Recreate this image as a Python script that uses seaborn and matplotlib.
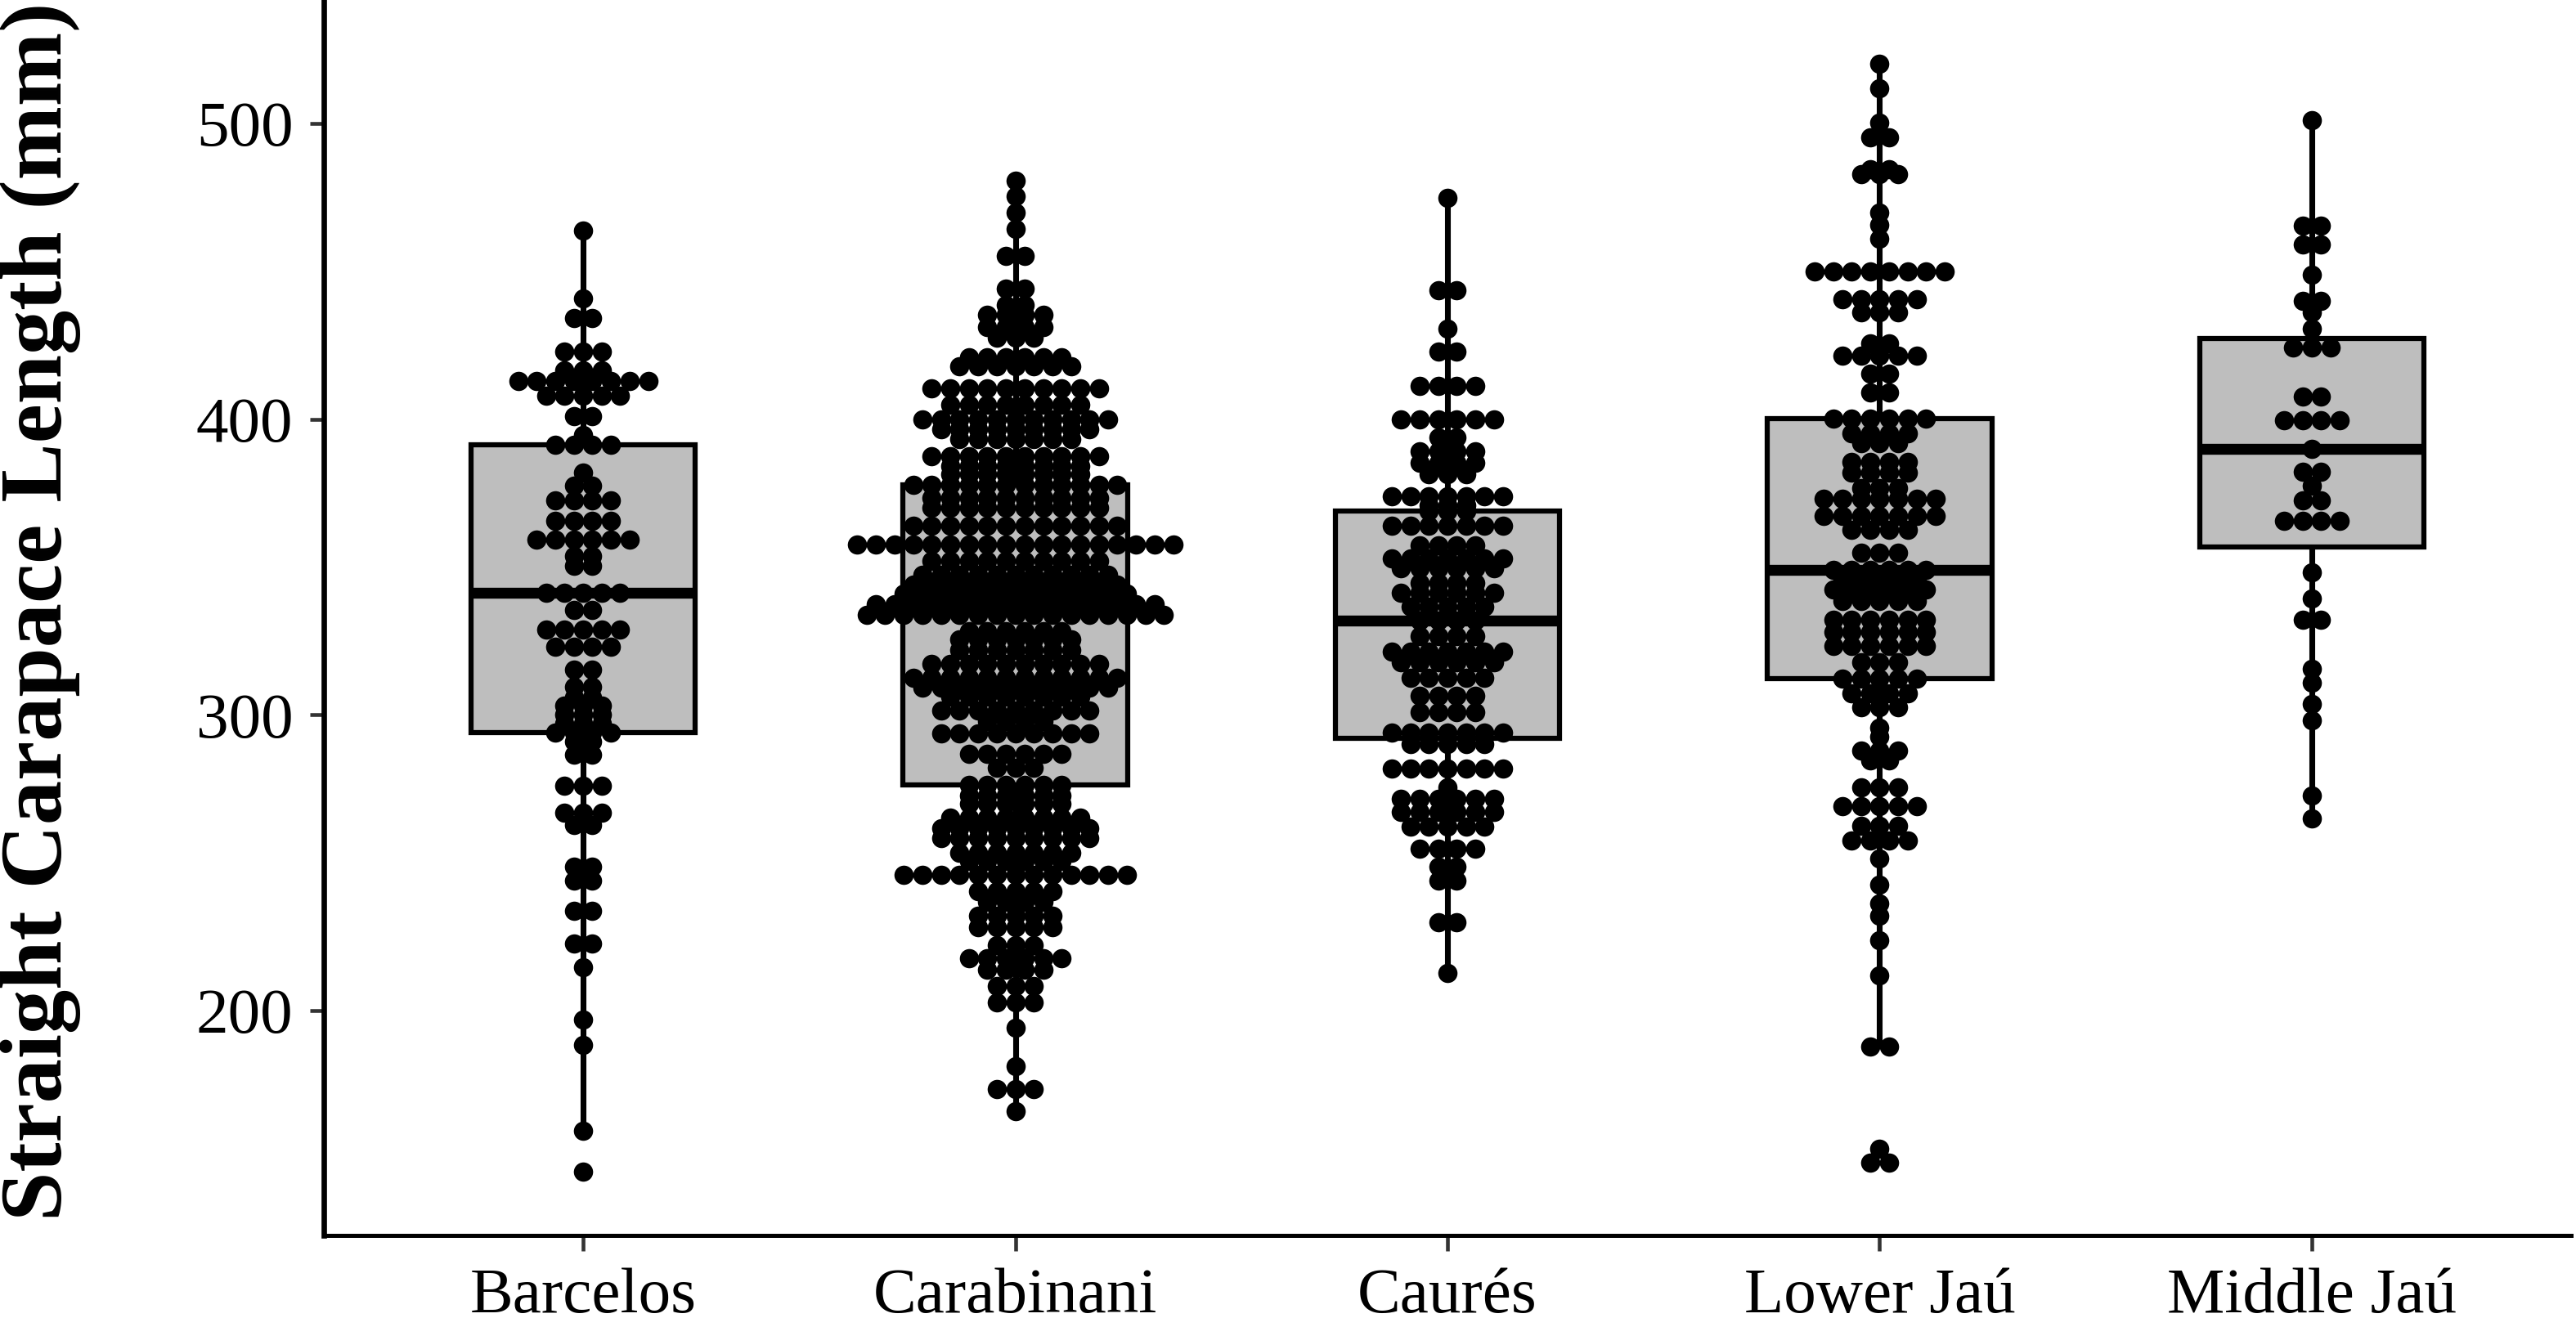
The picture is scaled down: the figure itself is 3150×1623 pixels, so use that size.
import numpy as np
import pandas as pd
import matplotlib
matplotlib.use("Agg")
import matplotlib.pyplot as plt
import seaborn as sns

sites = ["Barcelos", "Carabinani", "Caurés", "Lower Jaú", "Middle Jaú"]

# dot rows: bin centre (mm) and number of stacked dots
barcelos_scl = [463.8, 440.9, 434.1, 422.8, 416.5, 413.0, 408.0, 401.0, 394.5, 391.3,
                382.0, 377.5, 372.4, 365.6, 359.3, 353.7, 350.3, 341.2, 335.6, 328.8,
                323.1, 315.2, 309.5, 306.0, 303.0, 300.0, 297.0, 294.0, 291.0, 286.6,
                276.0, 267.0, 262.9, 248.6, 243.9, 233.8, 222.8, 214.8, 196.9, 188.4,
                159.4, 145.7]
barcelos_n = [1, 1, 2, 3, 3, 8, 5, 2, 1, 4,
              1, 2, 4, 4, 6, 2, 2, 5, 2, 5,
              4, 2, 2, 2, 3, 3, 3, 4, 2, 2,
              3, 3, 2, 2, 2, 2, 2, 1, 1, 1,
              1, 1]

carabinani_scl = [480.5, 475.4, 469.9, 464.3, 455.2, 444.1, 438.6, 435.3, 431.2, 427.5,
                  420.9, 417.9, 410.4, 404.9, 399.9, 396.6, 393.3, 387.5, 384.2, 381.4, 377.8,
                  373.4, 370.1, 364.0, 357.5, 352.0, 347.4, 344.1, 341.0, 337.4, 333.8,
                  328.3, 325.5, 322.0, 317.3, 312.6, 309.3, 306.1, 301.6, 297.8, 293.8,
                  286.8, 282.1, 276.3, 272.7, 270.0, 265.3, 261.7,
                  258.3, 253.4, 250.6, 245.9, 240.4, 236.9, 232.2, 228.1, 222.1, 217.6,
                  213.9, 208.3, 202.8, 194.2, 181.2, 173.4, 166.0]
carabinani_n = [1, 1, 1, 1, 2, 2, 2, 4, 4, 3,
                6, 7, 10, 8, 11, 9, 7, 10, 8, 8, 12,
                10, 10, 12, 18, 10, 11, 12, 13, 16, 17,
                6, 7, 7, 10, 12, 11, 8, 9, 4, 9,
                6, 3, 6, 6, 6, 8, 9,
                9, 7, 6, 13, 5, 4, 5, 5, 3, 6,
                4, 3, 3, 1, 1, 3, 1]

caures_scl = [474.9, 443.6, 430.7, 422.8, 411.3, 399.9, 393.8, 389.2, 385.1, 381.4,
              374.0, 371.0, 369.0, 364.0, 357.4, 353.0, 349.6, 344.5, 341.3, 336.7, 331.9,
              326.6, 321.5, 317.9, 312.4, 306.4, 300.9, 294.0, 290.2, 281.8, 275.4,
              271.7, 267.1, 262.1, 254.7, 248.7, 244.1, 229.8, 212.7]
caures_n = [1, 2, 1, 2, 4, 6, 2, 4, 4, 3,
            7, 3, 3, 7, 4, 7, 6, 4, 6, 5, 4,
            4, 7, 6, 5, 4, 4, 7, 5, 7, 1,
            6, 6, 5, 4, 2, 2, 2, 1]

lower_jau_scl = [520.1, 511.8, 500.3, 495.2, 484.6, 482.8, 469.9, 465.7, 461.1, 450.0,
                 440.4, 436.2, 425.6, 421.5, 415.5, 409.0, 400.3,
                 395.2, 392.0, 385.5, 381.9, 376.8, 373.1, 367.2, 362.6, 354.7, 349.1,
                 346.0, 342.3, 338.6, 332.1, 328.0, 323.3, 317.8, 312.3, 307.2, 302.6,
                 295.7, 292.5, 287.9, 284.6, 275.4, 269.0,
                 262.5, 257.5, 251.5, 242.7, 236.3, 232.1, 223.8, 211.8, 187.8, 153.3, 148.7]
lower_jau_n = [1, 1, 1, 2, 2, 3, 1, 1, 1, 8,
               5, 3, 2, 5, 2, 2, 6,
               4, 3, 4, 4, 3, 7, 7, 4, 3, 6,
               5, 6, 5, 6, 6, 6, 3, 5, 4, 3,
               1, 1, 3, 2, 3, 5,
               3, 4, 1, 1, 1, 1, 1, 1, 2, 1, 2]

middle_jau_scl = [501.0, 465.3, 459.0, 448.7, 440.0, 436.0, 430.5, 424.1, 407.5, 399.6,
                  390.0, 382.1, 377.4, 372.6, 365.5, 348.1, 339.3, 332.2, 315.6, 310.8,
                  303.7, 298.1, 272.8, 264.9]
middle_jau_n = [1, 2, 2, 1, 2, 1, 1, 3, 2, 4,
                1, 2, 1, 2, 4, 1, 1, 2, 1, 1,
                1, 1, 1, 1]

rows = [(barcelos_scl, barcelos_n), (carabinani_scl, carabinani_n),
        (caures_scl, caures_n), (lower_jau_scl, lower_jau_n),
        (middle_jau_scl, middle_jau_n)]

# long table for the boxes, centred stacks (like geom_dotplot) for the dots
dot_step = 0.043
long_parts, dot_parts = [], []
for i, (site, (vals, counts)) in enumerate(zip(sites, rows)):
    long_parts.append(pd.DataFrame({"site": site, "scl": np.repeat(vals, counts)}))
    for v, n in zip(vals, counts):
        offs = (np.arange(n) - (n - 1) / 2) * dot_step
        dot_parts.append(pd.DataFrame({"x": i + offs, "scl": v}))
df = pd.concat(long_parts, ignore_index=True)
dots = pd.concat(dot_parts, ignore_index=True)

sns.set_style("white")
plt.rcParams["font.family"] = ["Liberation Serif", "DejaVu Serif"]

fig = plt.figure(figsize=(10.5, 5.41), dpi=300)
ax = fig.add_axes([0.1257, 0.069, 0.8724, 0.931])

sns.boxplot(data=df, x="site", y="scl", order=sites, width=0.52, color="#bebebe",
            saturation=1, linecolor="black", linewidth=1.5, showcaps=False,
            showfliers=False, medianprops={"linewidth": 3.2},
            whiskerprops={"linewidth": 1.7}, ax=ax)
sns.scatterplot(data=dots, x="x", y="scl", color="black", s=32, linewidth=0,
                zorder=3, legend=False, ax=ax)

ax.set_xlim(-0.6, 4.6)
ax.set_ylim(124, 541.7)
ax.set_yticks([200, 300, 400, 500])
ax.set_xticks(range(len(sites)))
ax.set_xticklabels(sites)
ax.set_xlabel("")
ax.set_ylabel("Straight Carapace Length (mm)", fontsize=26, fontweight="bold",
              color="black")
ax.yaxis.set_label_coords(-0.108, 0.505)

for side in ["top", "right"]:
    ax.spines[side].set_visible(False)
ax.spines["left"].set_linewidth(1.6)
ax.spines["bottom"].set_linewidth(1.2)
ax.spines["left"].set_color("black")
ax.spines["bottom"].set_color("black")
ax.tick_params(axis="both", labelsize=19, labelcolor="black", color="#333333",
               width=1.1, direction="out")
ax.tick_params(axis="y", length=4, pad=5, left=True)
ax.tick_params(axis="x", length=4.5, pad=5, bottom=True)

fig.savefig("out.png", dpi=300)
